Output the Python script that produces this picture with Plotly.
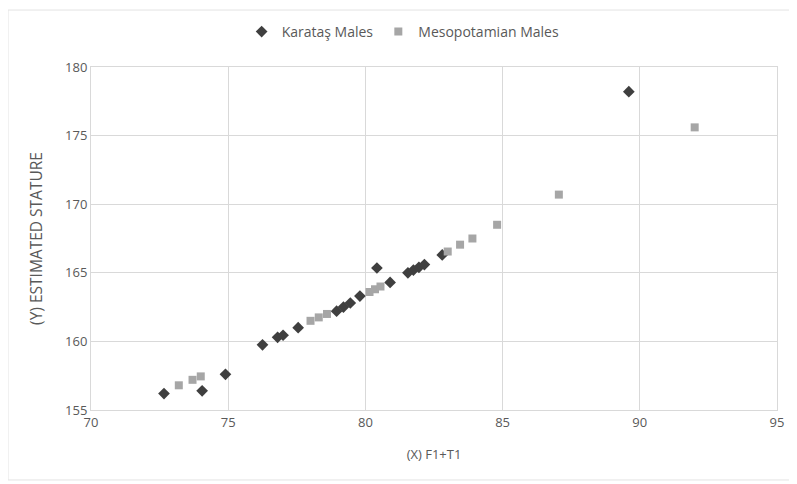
import plotly.graph_objects as go

kar_x = [72.66, 74.05, 74.9, 76.25, 76.8, 77.0, 77.55, 78.95, 79.2, 79.45, 79.8,
         80.42, 80.9, 81.55, 81.75, 81.95, 82.15, 82.8, 89.6]
kar_y = [156.2, 156.4, 157.6, 159.75, 160.3, 160.45, 161.0, 162.2, 162.5, 162.8, 163.3,
         165.35, 164.3, 165.0, 165.2, 165.4, 165.6, 166.3, 178.2]

mes_x = [73.2, 73.7, 74.0, 78.0, 78.3, 78.6, 80.15, 80.35, 80.55, 83.0, 83.45, 83.9,
         84.8, 87.05, 92.0]
mes_y = [156.8, 157.2, 157.45, 161.5, 161.75, 162.0, 163.6, 163.8, 164.0, 166.55, 167.05,
         167.5, 168.5, 170.7, 175.6]

font = "Open Sans"
grey_txt = "#595959"

fig = go.Figure()
fig.add_trace(go.Scatter(x=kar_x, y=kar_y, mode="markers", name="Karataş Males",
                         marker=dict(symbol="diamond", size=9, color="#3f3f3f")))
fig.add_trace(go.Scatter(x=mes_x, y=mes_y, mode="markers", name="Mesopotamian Males",
                         marker=dict(symbol="square", size=8, color="#a6a6a6")))

# page has an 8px body margin, so the figure is offset by (8, 8)
fig.update_layout(
    width=789, height=476,
    margin=dict(l=83, r=20, t=59, b=74, autoexpand=False),
    paper_bgcolor="white", plot_bgcolor="white",
    font=dict(family=font, size=13, color=grey_txt),
    legend=dict(orientation="h", x=0.455, xanchor="center", xref="paper",
                y=1 - 24 / 476, yanchor="middle", yref="container",
                font=dict(size=14, color=grey_txt), itemwidth=30, tracegroupgap=0),
    showlegend=True,
)
fig.update_xaxes(range=[70, 95], dtick=5, tick0=70, showgrid=True, gridcolor="#d9d9d9",
                 zeroline=False, showline=True, linecolor="#d9d9d9", mirror=True,
                 ticks="", automargin=False, tickfont=dict(size=13, color=grey_txt),
                 title=dict(text="(X) F1+T1", font=dict(size=13, color=grey_txt), standoff=20))
fig.update_yaxes(range=[155, 180], dtick=5, tick0=155, showgrid=True, gridcolor="#d9d9d9",
                 zeroline=False, showline=True, linecolor="#d9d9d9", mirror=True,
                 ticks="", automargin=False, tickfont=dict(size=13, color=grey_txt),
                 title=dict(text="(Y) ESTIMATED STATURE", font=dict(size=15.5, color=grey_txt), standoff=18))
fig.add_shape(type="rect", xref="paper", yref="paper", x0=-0.121, x1=1.023, y0=-0.204, y1=1.166,
              line=dict(color="#e3e3e3", width=1))
fig.write_html("out.html")
